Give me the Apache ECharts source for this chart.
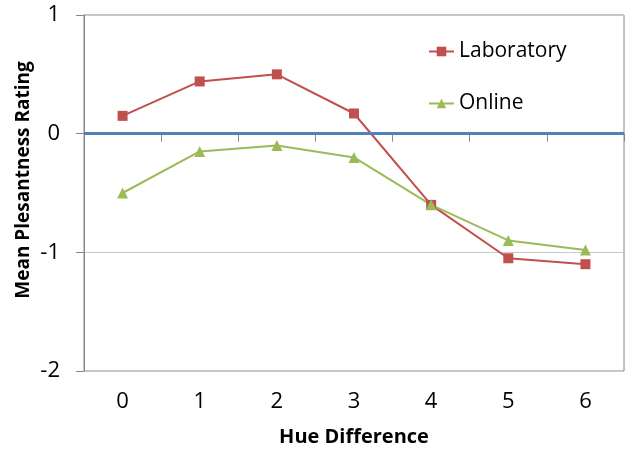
<!DOCTYPE html>
<html>
<head>
<meta charset="utf-8">
<script src="https://cdn.jsdelivr.net/npm/echarts@6/dist/echarts.min.js"></script>
<style>
  html, body { margin: 0; padding: 0; background: #fff; }
  #main { width: 640px; height: 470px; }
</style>
</head>
<body>
<div id="main"></div>
<script>
// hue difference categories
var hueDiff = ['0', '1', '2', '3', '4', '5', '6'];
// mean pleasantness ratings
var laboratory = [0.15, 0.44, 0.5, 0.17, -0.6, -1.05, -1.1];
var online = [-0.5, -0.15, -0.1, -0.2, -0.6, -0.9, -0.98];

var font = 'Open Sans';

var chartDom = document.getElementById('main');
var myChart = echarts.init(chartDom);

var option = {
  animation: false,
  textStyle: { fontFamily: font },
  grid: {
    left: 84,
    right: 16,
    top: 15,
    bottom: 99,
    show: true,
    borderColor: '#868686',
    borderWidth: 1
  },
  legend: {
    orient: 'vertical',
    left: 423,
    top: 36,
    itemGap: 31,
    itemWidth: 25,
    itemHeight: 12,
    textStyle: { fontFamily: font, fontSize: 21, color: '#000' },
    data: ['Laboratory', 'Online']
  },
  xAxis: {
    type: 'category',
    data: hueDiff,
    boundaryGap: true,
    name: 'Hue Difference',
    nameLocation: 'middle',
    nameGap: 56,
    nameTextStyle: { fontFamily: font, fontSize: 20, fontWeight: 'bold', color: '#000' },
    axisLine: { lineStyle: { color: '#868686', width: 1 } },
    axisTick: { show: true, interval: 0, length: 8, lineStyle: { color: '#868686' } },
    axisLabel: { margin: 20, fontSize: 22, color: '#000', fontFamily: font }
  },
  yAxis: {
    type: 'value',
    min: -2,
    max: 1,
    interval: 1,
    name: 'Mean Plesantness Rating',
    nameLocation: 'middle',
    nameGap: 51,
    nameMoveOverlap: false,
    nameTextStyle: { fontFamily: font, fontSize: 19, fontWeight: 'bold', color: '#000', padding: [0, 0, 0, 26] },
    axisLine: { show: true, lineStyle: { color: '#868686', width: 1 } },
    axisTick: { show: true, length: 8, lineStyle: { color: '#868686' } },
    axisLabel: { margin: 24, fontSize: 22, color: '#000', fontFamily: font },
    splitLine: { show: true, lineStyle: { color: '#c8c8c8', width: 1 } }
  },
  series: [
    {
      name: 'Laboratory',
      type: 'line',
      data: laboratory,
      symbol: 'rect',
      symbolSize: 10,
      itemStyle: { color: '#C0504D' },
      lineStyle: { color: '#C0504D', width: 2 },
      markLine: {
        silent: true,
        symbol: 'none',
        label: { show: false },
        lineStyle: { color: '#4F81BD', width: 3, type: 'solid' },
        data: [{ yAxis: 0 }]
      }
    },
    {
      name: 'Online',
      type: 'line',
      data: online,
      symbol: 'triangle',
      symbolSize: 11,
      itemStyle: { color: '#9BBB59' },
      lineStyle: { color: '#9BBB59', width: 2 }
    }
  ]
};

option && myChart.setOption(option);
</script>
</body>
</html>
